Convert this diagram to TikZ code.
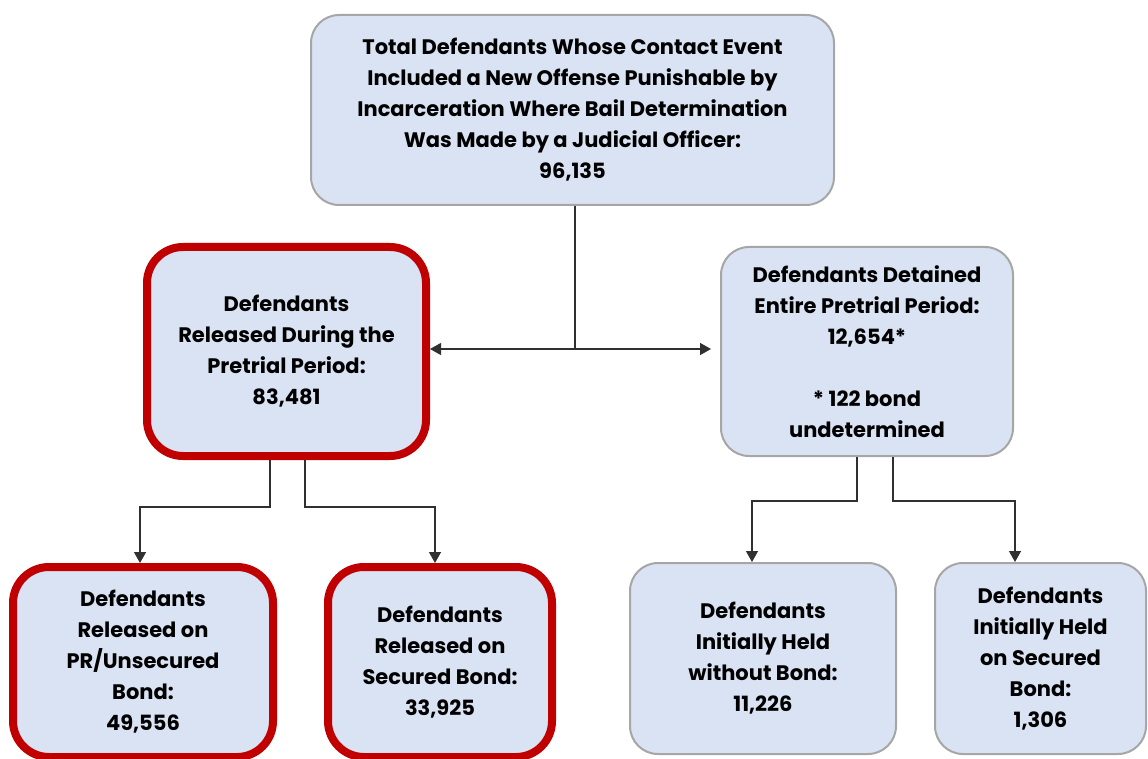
\documentclass[tikz,border=0pt]{standalone}
\usepackage{fontspec}
\setmainfont{Poppins}
\usepackage{tikz}
\usetikzlibrary{arrows.meta, positioning}

\definecolor{boxfill}{HTML}{DAE3F3}
\definecolor{boxgray}{HTML}{A6A6A6}
\definecolor{boxred}{HTML}{C00000}
\definecolor{linegray}{HTML}{303030}

\begin{document}
\begin{tikzpicture}[x=1pt, y=-1pt,
  box/.style={draw=boxgray, line width=2pt, fill=boxfill, rounded corners=28pt,
              align=center, inner sep=0pt, font=\fontsize{21}{31}\selectfont\bfseries},
  redbox/.style={box, draw=boxred, line width=8pt, rounded corners=36pt},
  arr/.style={-{Triangle[length=11pt,width=12pt]}, line width=1.3pt, draw=linegray}
]
  \useasboundingbox (0,0) rectangle (1148,759);

  % Total
  \node[box, minimum width=523pt, minimum height=190pt] at (572.5,110) (total)
    {Total Defendants Whose Contact Event \\ Included a New Offense Punishable by \\
     Incarceration Where Bail Determination \\ Was Made by a Judicial Officer: \\ 96,135};

  % Released / detained
  \node[redbox, minimum width=279pt, minimum height=209pt] at (286.5,351.5) (released)
    {Defendants \\ Released During the \\ Pretrial Period: \\ 83,481};
  \node[box, minimum width=292pt, minimum height=209pt] at (867,351.5) (detained)
    {Defendants Detained \\ Entire Pretrial Period: \\ 12,654* \\[31pt] * 122 bond \\ undetermined};

  % Release types
  \node[redbox, minimum width=260pt, minimum height=190pt] at (143,662) (unsecured)
    {Defendants \\ Released on \\ PR/Unsecured \\ Bond: \\ 49,556};
  \node[redbox, minimum width=224pt, minimum height=190pt] at (440,662) (secured)
    {Defendants \\ Released on \\ Secured Bond: \\ 33,925};

  % Held types
  \node[box, minimum width=266pt, minimum height=191pt] at (763,658.5) (nobond)
    {Defendants \\ Initially Held \\ without Bond: \\ 11,226};
  \node[box, minimum width=211pt, minimum height=191pt] at (1040.5,658.5) (heldsec)
    {Defendants \\ Initially Held \\ on Secured \\ Bond: \\ 1,306};

  % Arrows
  \coordinate (split) at ([xshift=2.5pt]total.south |- 0,349);
  \draw[draw=linegray, line width=1.3pt] ([xshift=2.5pt]total.south) -- (split);
  \draw[arr] (split) -- (released.east |- split);
  \draw[arr] (split) -- ([xshift=-9pt]detained.west |- split);

  \draw[arr] ([xshift=-16.5pt]released.south) -- ++(0,47) -| ([xshift=-3pt]unsecured.north);
  \draw[arr] ([xshift=18.5pt]released.south) -- ++(0,47) -| ([xshift=-5pt]secured.north);
  \draw[arr] ([xshift=-10pt]detained.south) -- ++(0,44) -| ([xshift=-11pt]nobond.north);
  \draw[arr] ([xshift=26pt]detained.south) -- ++(0,44) -| ([xshift=-25.5pt]heldsec.north);
\end{tikzpicture}
\end{document}
